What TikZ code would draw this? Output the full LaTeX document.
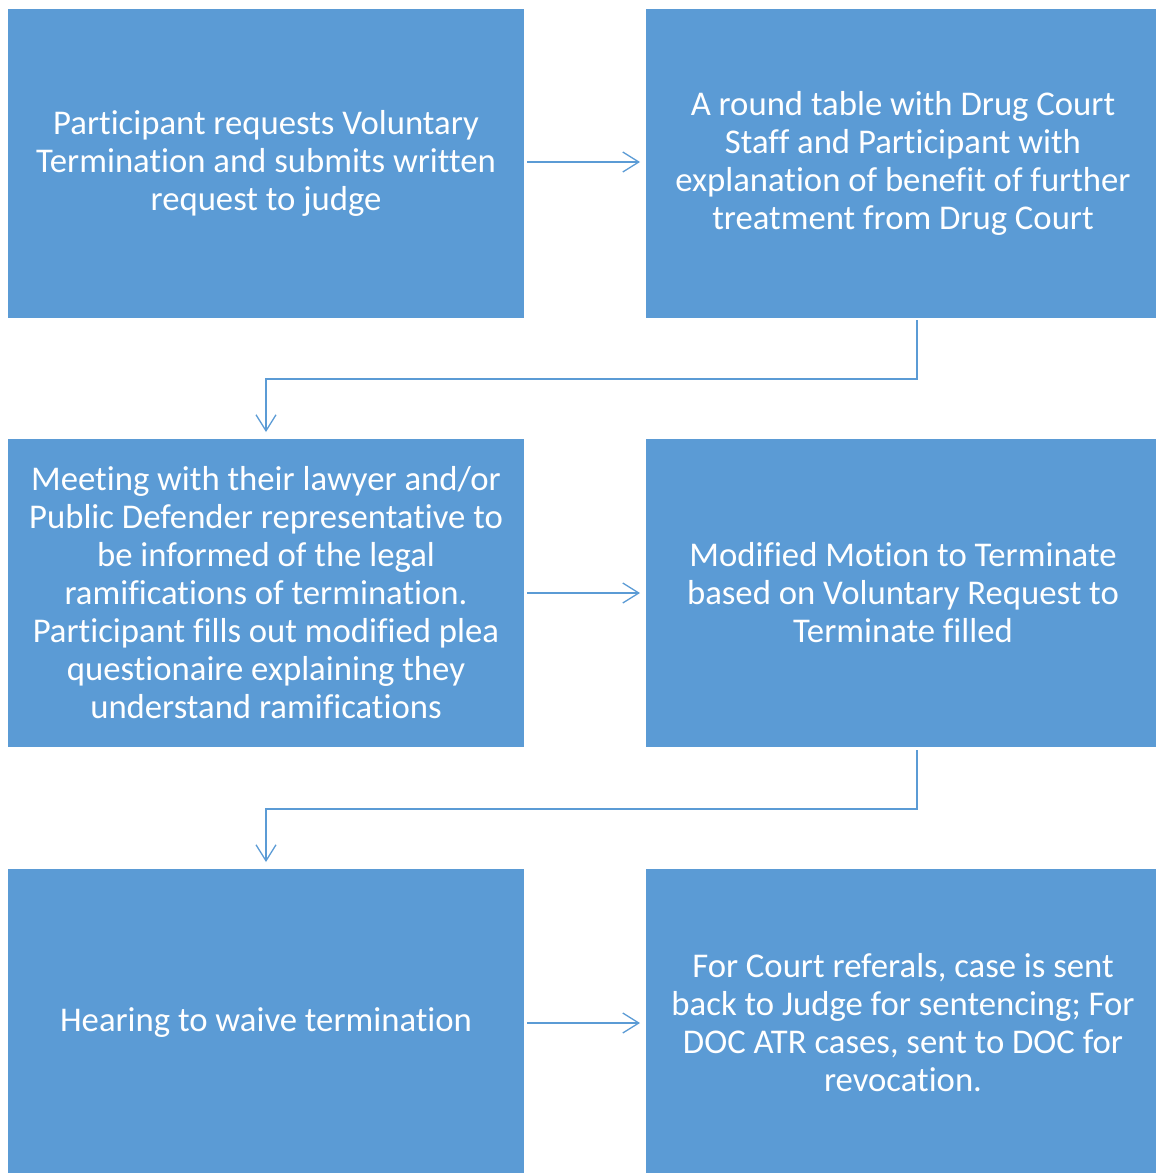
\documentclass[tikz,border=0pt]{standalone}
\usepackage{fontspec}
\setmainfont{Carlito}[RawFeature={-liga;-clig;-calt;-dlig;-rlig}]
\usetikzlibrary{arrows.meta}
\definecolor{boxblue}{HTML}{5B9BD5}
\definecolor{lineblue}{HTML}{5B9BD5}
\begin{document}
\begin{tikzpicture}[x=1pt,y=-1pt,
  box/.style={fill=boxblue, draw=none, text=white, align=center,
    font=\fontsize{34.7}{38}\selectfont, inner sep=0pt},
  rbox/.style={box, minimum width=510pt, inner xsep=0pt},
  conn/.style={draw=lineblue, line width=1.3pt, -{Straight Barb[length=16pt,width=20pt]}}]
\useasboundingbox (0,0) rectangle (1156,1173);
\node[box, minimum width=516pt, minimum height=309pt] (a) at (266,163)
  {Participant requests Voluntary\\Termination and submits written\\request to judge};
\node[rbox, minimum height=309pt] (b) at (901,163)
  {\hspace*{4pt}A round table with Drug Court\\\hspace*{4pt}Staff and Participant with\\\hspace*{4pt}explanation of benefit of further\\\hspace*{4pt}treatment from Drug Court};
\node[box, minimum width=516pt, minimum height=308pt] (c) at (266,593)
  {Meeting with their lawyer and/or\\Public Defender representative to\\be informed of the legal\\ramifications of termination.\\Participant fills out modified plea\\questionaire explaining they\\understand ramifications};
\node[rbox, minimum height=308pt] (d) at (901,593)
  {\hspace*{4pt}Modified Motion to Terminate\\\hspace*{4pt}based on Voluntary Request to\\\hspace*{4pt}Terminate filled};
\node[box, minimum width=516pt, minimum height=308pt] (e) at (266,1023)
  {Hearing to waive termination};
\node[rbox, minimum height=308pt] (f) at (901,1023)
  {\hspace*{4pt}For Court referals, case is sent\\\hspace*{4pt}back to Judge for sentencing; For\\\hspace*{4pt}DOC ATR cases, sent to DOC for\\\hspace*{4pt}revocation.};
\coordinate (ab1) at (527,162);
\coordinate (ab2) at (640,162);
\draw[conn] (ab1) -- (ab2);
\coordinate (bc1) at (917,320);
\coordinate (bc2) at (266,432);
\draw[conn] (bc1) -- (917,379) -- (266,379) -- (bc2);
\coordinate (cd1) at (527,593);
\coordinate (cd2) at (640,593);
\draw[conn] (cd1) -- (cd2);
\coordinate (de1) at (917,750);
\coordinate (de2) at (266,862);
\draw[conn] (de1) -- (917,809) -- (266,809) -- (de2);
\coordinate (ef1) at (527,1023);
\coordinate (ef2) at (640,1023);
\draw[conn] (ef1) -- (ef2);
\end{tikzpicture}
\end{document}
